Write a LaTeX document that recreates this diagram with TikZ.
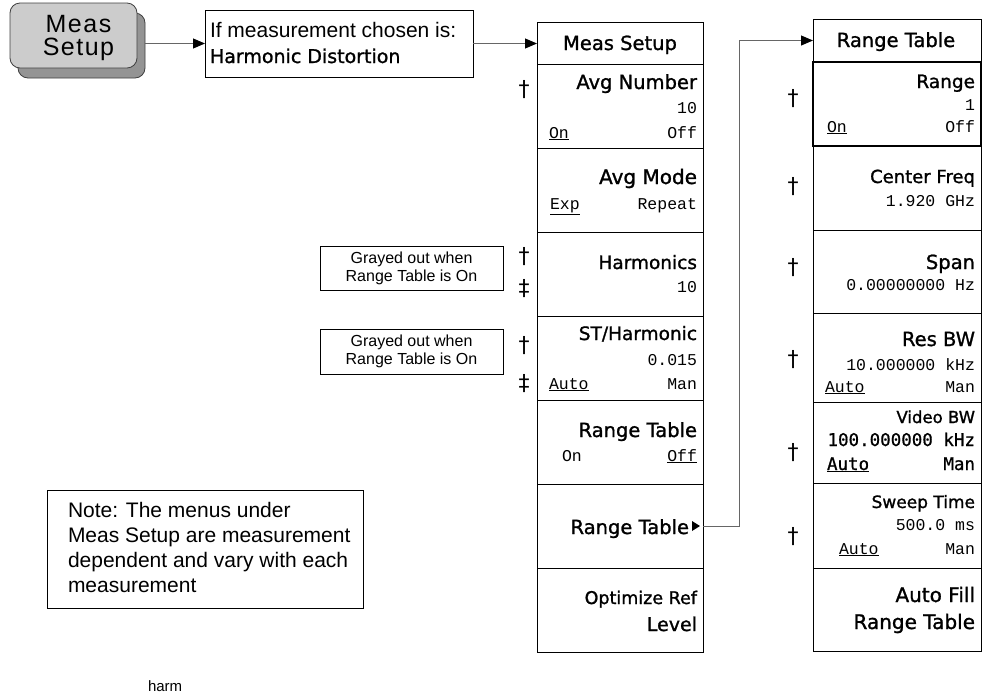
\documentclass[tikz,border=0pt]{standalone}
\usepackage{fontspec}
\setmainfont{Liberation Sans}
\newfontfamily\keyfont{DejaVu Sans}[FakeBold=1.2]
\newfontfamily\keymono{DejaVu Sans Mono}[FakeBold=0.8]
\newfontfamily\valfont{Liberation Mono}
\newfontfamily\markfont{DejaVu Sans}
\newfontfamily\btnfont{Liberation Sans}[LetterSpace=6]
\usetikzlibrary{arrows.meta,calc}

\tikzset{
  every node/.style={inner sep=0pt, outer sep=0pt},
  keybox/.style={draw=black, line width=0.9pt, rectangle, anchor=north west, minimum width=166},
  rkeybox/.style={keybox, minimum width=168},
  ttl/.style={font=\fontsize{#1}{#1}\keyfont, anchor=base east},
  ttl/.default=19.5,
  val/.style={font=\fontsize{16.5}{16.5}\valfont, anchor=base east},
  valL/.style={font=\fontsize{16.5}{16.5}\valfont, anchor=base west},
  bval/.style={font=\fontsize{17.5}{17.5}\keymono, anchor=base east},
  bvalL/.style={font=\fontsize{17.5}{17.5}\keymono, anchor=base west},
  footmark/.style={font=\fontsize{22}{22}\markfont, anchor=center},
  note/.style={draw=black, line width=0.8pt, rectangle, anchor=north west},
  conn/.style={draw=black!60, line width=1pt, -{Triangle[length=12pt,width=10pt,color=black]}},
  link/.style={draw=black!60, line width=1pt}
}

\begin{document}
\begin{tikzpicture}[x=1pt,y=-1pt]
\useasboundingbox (0,0) rectangle (982,697);

% hard key with its raised shadow
\node[draw=black!75, fill=black!42, rounded corners=10pt, line width=0.8pt,
      minimum width=127, minimum height=65, anchor=north west] (btnshadow) at (18,13) {};
\node[draw=black!75, fill=black!20, rounded corners=10pt, line width=0.8pt,
      minimum width=127, minimum height=65, anchor=north west] (btn) at (10,3) {};
\node[font=\fontsize{25}{23}\btnfont, align=center] (btntext) at ($(btn.center)+(5,2)$) {Meas\\Setup};

% measurement condition box
\node[note, minimum width=268, minimum height=67] (ifbox) at (205,10) {};
\node[anchor=base west, font=\fontsize{21}{21}\selectfont] (if1) at ($(ifbox.north west)+(5,27)$) {If measurement chosen is:};
\node[anchor=base west, font=\fontsize{19}{19}\keyfont] (if2) at ($(ifbox.north west)+(5,53)$) {Harmonic Distortion};

% Meas Setup menu
\node[keybox, minimum height=42] (ms0) at (537,22) {};
\node[anchor=base, font=\fontsize{19.5}{19.5}\keyfont] (ms0t) at ($(ms0.north)+(0,28)$) {Meas Setup};

\node[keybox, minimum height=84] (ms1) at (537,64) {};
\node[ttl=19.5] (ms1t) at ($(ms1.north east)+(-6,25)$) {Avg Number};
\node[val] (ms1v) at ($(ms1.north east)+(-6,49)$) {10};
\node[valL] (ms1a) at ($(ms1.north west)+(12,74)$) {\underline{On}};
\node[val] (ms1b) at ($(ms1.north east)+(-6,74)$) {Off};

\node[keybox, minimum height=84] (ms2) at (537,148) {};
\node[ttl=20] (ms2t) at ($(ms2.north east)+(-6,36)$) {Avg Mode};
\node[valL] (ms2a) at ($(ms2.north west)+(13,61)$) {\underline{Exp}};
\node[val] (ms2b) at ($(ms2.north east)+(-6,61)$) {Repeat};

\node[keybox, minimum height=84] (ms3) at (537,232) {};
\node[ttl=18.5] (ms3t) at ($(ms3.north east)+(-6,37)$) {Harmonics};
\node[val] (ms3v) at ($(ms3.north east)+(-6,60)$) {10};

\node[keybox, minimum height=84] (ms4) at (537,316) {};
\node[ttl=18.5] (ms4t) at ($(ms4.north east)+(-6,24)$) {ST/Harmonic};
\node[val] (ms4v) at ($(ms4.north east)+(-6,49)$) {0.015};
\node[valL] (ms4a) at ($(ms4.north west)+(12,73)$) {\underline{Auto}};
\node[val] (ms4b) at ($(ms4.north east)+(-6,73)$) {Man};

\node[keybox, minimum height=84] (ms5) at (537,400) {};
\node[ttl=19.5] (ms5t) at ($(ms5.north east)+(-6,37)$) {Range Table};
\node[valL] (ms5a) at ($(ms5.north west)+(25,61)$) {On};
\node[val] (ms5b) at ($(ms5.north east)+(-6,61)$) {\underline{Off}};

\node[keybox, minimum height=84] (ms6) at (537,484) {};
\node[ttl=19.5] (ms6t) at ($(ms6.north east)+(-14,50)$) {Range Table};
\fill[black] ($(ms6.east)+(-11,-5)$) -- ($(ms6.east)+(-3,0)$) -- ($(ms6.east)+(-11,5)$) -- cycle;

\node[keybox, minimum height=84] (ms7) at (537,568) {};
\node[ttl=17.5] (ms7t) at ($(ms7.north east)+(-6,36)$) {Optimize Ref};
\node[ttl=19] (ms7u) at ($(ms7.north east)+(-6,63)$) {Level};

% Range Table menu
\node[rkeybox, minimum height=43] (rt0) at (813,19) {};
\node[anchor=base, font=\fontsize{19.5}{19.5}\keyfont] (rt0t) at ($(rt0.north)+(-1,28)$) {Range Table};

\node[rkeybox, minimum height=84] (rt2) at (813,146) {};
\node[ttl=18] (rt2t) at ($(rt2.north east)+(-6,37)$) {Center Freq};
\node[val] (rt2v) at ($(rt2.north east)+(-6,60)$) {1.920 GHz};

\node[rkeybox, minimum height=83] (rt3) at (813,230) {};
\node[ttl=19.5] (rt3t) at ($(rt3.north east)+(-6,39)$) {Span};
\node[val] (rt3v) at ($(rt3.north east)+(-6,60)$) {0.00000000 Hz};

\node[rkeybox, minimum height=89] (rt4) at (813,313) {};
\node[ttl=19.5] (rt4t) at ($(rt4.north east)+(-6,33)$) {Res BW};
\node[val] (rt4v) at ($(rt4.north east)+(-6,57)$) {10.000000 kHz};
\node[valL] (rt4a) at ($(rt4.north west)+(12,79)$) {\underline{Auto}};
\node[val] (rt4b) at ($(rt4.north east)+(-6,79)$) {Man};

\node[rkeybox, minimum height=81] (rt5) at (813,402) {};
\node[ttl=16.5] (rt5t) at ($(rt5.north east)+(-6,21)$) {Video BW};
\node[bval] (rt5v) at ($(rt5.north east)+(-6,44)$) {100.000000 kHz};
\node[bvalL] (rt5a) at ($(rt5.north west)+(14,68)$) {\underline{Auto}};
\node[bval] (rt5b) at ($(rt5.north east)+(-6,68)$) {Man};

\node[rkeybox, minimum height=85] (rt6) at (813,483) {};
\node[ttl=17] (rt6t) at ($(rt6.north east)+(-6,25)$) {Sweep Time};
\node[val] (rt6v) at ($(rt6.north east)+(-6,47)$) {500.0 ms};
\node[valL] (rt6a) at ($(rt6.north west)+(26,71)$) {\underline{Auto}};
\node[val] (rt6b) at ($(rt6.north east)+(-6,71)$) {Man};

\node[rkeybox, minimum height=83] (rt7) at (813,568) {};
\node[ttl=20] (rt7t) at ($(rt7.north east)+(-6,34)$) {Auto Fill};
\node[ttl=20] (rt7u) at ($(rt7.north east)+(-6,61)$) {Range Table};

% highlighted key drawn last so its heavy frame stays on top
\node[rkeybox, minimum height=84, line width=2.6pt] (rt1) at (813,62) {};
\node[ttl=18.5] (rt1t) at ($(rt1.north east)+(-6,26)$) {Range};
\node[val] (rt1v) at ($(rt1.north east)+(-6,48)$) {1};
\node[valL] (rt1a) at ($(rt1.north west)+(14,70)$) {\underline{On}};
\node[val] (rt1b) at ($(rt1.north east)+(-6,70)$) {Off};

% footnote marks beside the keys
\node[footmark] (d1) at (524,90) {†};
\node[footmark] (d2) at (524,257) {†};
\node[footmark] (d3) at (524,289) {‡};
\node[footmark] (d4) at (524,346) {†};
\node[footmark] (d5) at (524,384) {‡};
\node[footmark] (r1) at (793,99) {†};
\node[footmark] (r2) at (793,187) {†};
\node[footmark] (r3) at (793,268) {†};
\node[footmark] (r4) at (793,360) {†};
\node[footmark] (r5) at (793,453) {†};
\node[footmark] (r6) at (793,537) {†};

% side remarks
\node[note, minimum width=183, minimum height=44, align=center, font=\fontsize{16}{18}\selectfont] (g1) at (320,246) {Grayed out when\\Range Table is On};
\node[note, minimum width=183, minimum height=45, align=center, font=\fontsize{16}{18}\selectfont] (g2) at (320,329) {Grayed out when\\Range Table is On};

\node[note, minimum width=316, minimum height=118] (notebox) at (47,490) {};
\node[anchor=north west, align=left, font=\fontsize{21}{25}\selectfont] (notetext) at (68,502) {Note: The menus under\\Meas Setup are measurement\\dependent and vary with each\\measurement};

\node[anchor=base west, font=\fontsize{15}{15}\selectfont] (harm) at (148,691) {harm};

% connectors
\draw[conn] (btnshadow.east |- ifbox.west) -- (ifbox.west);
\draw[conn] (ifbox.east) -- (ifbox.east -| ms0.west);
\draw[conn] (ms6.east) -- ++(36,0) |- (rt0.west);
\end{tikzpicture}
\end{document}
